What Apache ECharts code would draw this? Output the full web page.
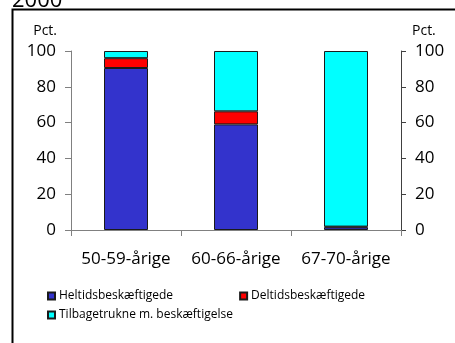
<!DOCTYPE html>
<html>
<head>
<meta charset="utf-8">
<script src="https://cdn.jsdelivr.net/npm/echarts@6/dist/echarts.min.js"></script>
<style>
  html, body { margin: 0; padding: 0; background: #fff; }
  #chart { width: 455px; height: 343px; }
</style>
</head>
<body>
<div id="chart"></div>
<script>
// Employment status by age group, share in percent
const ageGroups = ['50-59-årige', '60-66-årige', '67-70-årige'];
const fullTime = [90.5, 59.0, 1.5];
const partTime = [5.5, 7.3, 0.4];
const retiredWorking = [4.0, 33.7, 98.1];
const seriesNames = ['Heltidsbeskæftigede', 'Deltidsbeskæftigede', 'Tilbagetrukne m. beskæftigelse'];
const yTicks = [0, 20, 40, 60, 80, 100];

const FONT = 'Open Sans';
const chart = echarts.init(document.getElementById('chart'), null, { renderer: 'canvas' });

function barSeries(name, data, color) {
  return {
    name: name,
    type: 'bar',
    stack: 'total',
    data: data,
    barWidth: 44,
    itemStyle: { color: color, borderColor: '#1a1a1a', borderWidth: 1 },
    emphasis: { disabled: true }
  };
}

const yMin = yTicks[0];
const yMax = yTicks[yTicks.length - 1];
const yStep = yTicks[1] - yTicks[0];

chart.setOption({
  animation: false,
  backgroundColor: '#ffffff',
  textStyle: { fontFamily: FONT },
  grid: { left: 71, right: 54, top: 51, bottom: 113, containLabel: false },
  legend: [
    {
      data: seriesNames.slice(0, 2),
      left: 42, top: 285,
      orient: 'horizontal',
      itemWidth: 7, itemHeight: 7, itemGap: 66,
      icon: 'rect',
      textStyle: { fontFamily: FONT, fontSize: 12, color: '#000', padding: [0, 0, 0, -1] },
      selectedMode: false
    },
    {
      data: seriesNames.slice(2),
      left: 42, top: 304,
      orient: 'horizontal',
      itemWidth: 7, itemHeight: 7,
      icon: 'rect',
      textStyle: { fontFamily: FONT, fontSize: 12, color: '#000', padding: [0, 0, 0, -1] },
      selectedMode: false
    }
  ],
  xAxis: {
    type: 'category',
    data: ageGroups,
    axisLine: { lineStyle: { color: '#808080', width: 1 } },
    axisTick: { show: true, length: 6, lineStyle: { color: '#808080' } },
    axisLabel: { fontFamily: FONT, fontSize: 17, color: '#000', margin: 21, interval: 0, hideOverlap: false }
  },
  yAxis: [
    {
      type: 'value', min: yMin, max: yMax, interval: yStep,
      position: 'left',
      name: 'Pct.', nameLocation: 'end', nameGap: 13,
      nameTextStyle: { fontFamily: FONT, fontSize: 14, color: '#000', align: 'right', padding: [0, 14, 0, 0] },
      axisLine: { show: true, lineStyle: { color: '#808080' } },
      axisTick: { show: true, length: 6, lineStyle: { color: '#808080' } },
      axisLabel: { fontFamily: FONT, fontSize: 17, color: '#000', margin: 15 },
      splitLine: { show: false }
    },
    {
      type: 'value', min: yMin, max: yMax, interval: yStep,
      position: 'right',
      name: 'Pct.', nameLocation: 'end', nameGap: 13,
      nameTextStyle: { fontFamily: FONT, fontSize: 14, color: '#000', align: 'left', padding: [0, 0, 0, 11] },
      axisLine: { show: true, lineStyle: { color: '#404040' } },
      axisTick: { show: true, length: 5, lineStyle: { color: '#404040' } },
      axisLabel: { fontFamily: FONT, fontSize: 17, color: '#000', margin: 14 },
      splitLine: { show: false }
    }
  ],
  series: [
    barSeries(seriesNames[0], fullTime, '#3333cc'),
    barSeries(seriesNames[1], partTime, '#ff0000'),
    barSeries(seriesNames[2], retiredWorking, '#00ffff')
  ],
  graphic: [
    {
      type: 'rect',
      shape: { x: 12.5, y: 9.5, width: 480, height: 380 },
      style: { fill: 'none', stroke: '#000', lineWidth: 2 },
      silent: true
    },
    {
      type: 'text',
      left: 12, top: -10,
      style: { text: '2000', fontFamily: FONT, fontSize: 22, fill: '#000' },
      silent: true
    }
  ]
});
</script>
</body>
</html>
